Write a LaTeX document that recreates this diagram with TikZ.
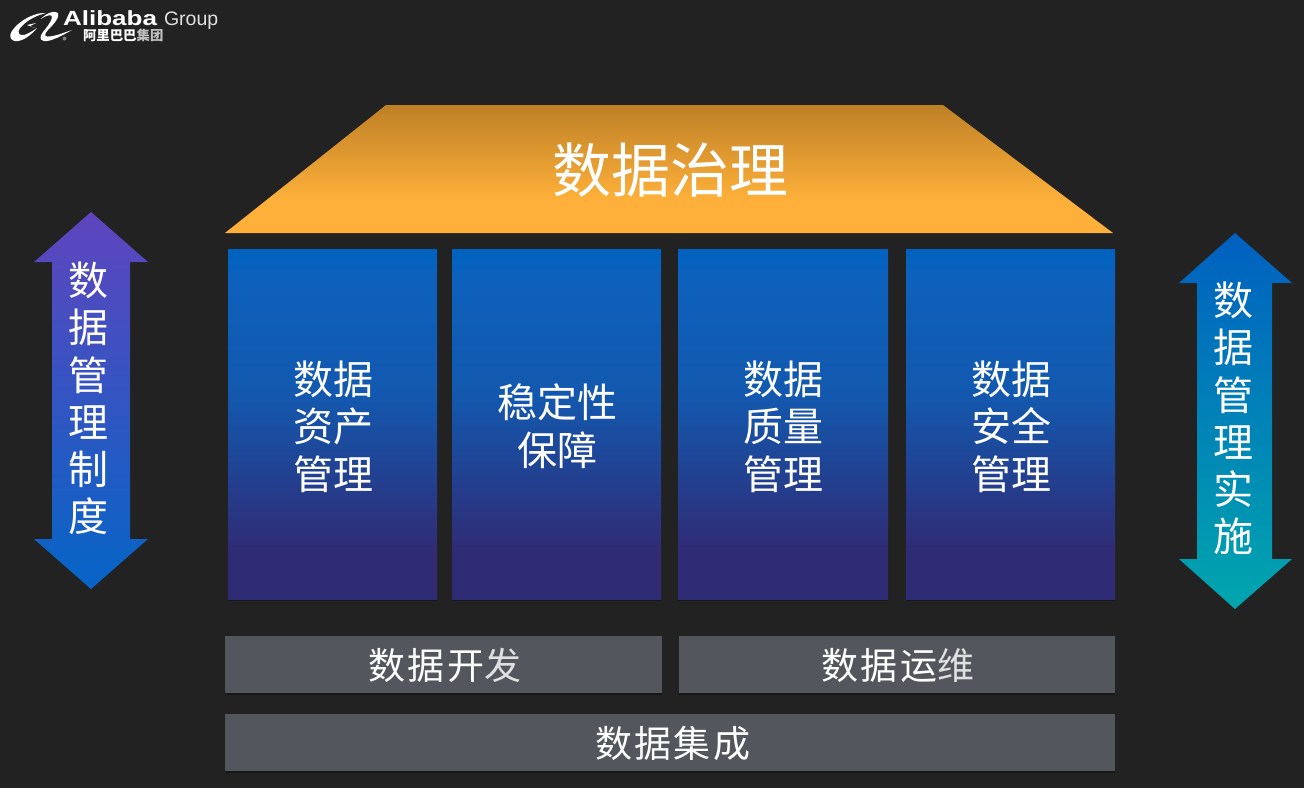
\documentclass[tikz,border=0pt]{standalone}
\usepackage{fontspec}
\setmainfont{Liberation Sans}
\newfontfamily\cjk{Noto Sans CJK SC}
\newfontfamily\cjkspaced[LetterSpace=5.5]{Noto Sans CJK SC}
\usetikzlibrary{shadows}
\definecolor{bgc}{HTML}{222222}
\definecolor{barc}{HTML}{53575D}
\definecolor{coltop}{HTML}{0062C0}
\definecolor{colhi}{HTML}{0D61BD}
\definecolor{colmid}{HTML}{1358AE}
\definecolor{colbot}{HTML}{302B75}
\definecolor{rooftop}{HTML}{BE8026}
\definecolor{roofbot}{HTML}{FEB03A}
\definecolor{latop}{HTML}{5F45BE}
\definecolor{labot}{HTML}{0565C6}
\definecolor{ratop}{HTML}{0060C0}
\definecolor{rabot}{HTML}{00A6AE}
\pgfdeclareverticalshading{roofshade}{100bp}{color(0bp)=(roofbot);color(25bp)=(roofbot);color(38bp)=(roofbot);color(75bp)=(rooftop);color(100bp)=(rooftop)}
\pgfdeclareverticalshading{colshade}{100bp}{color(0bp)=(colbot);color(25bp)=(colbot);color(32bp)=(colbot);color(54bp)=(colmid);color(71bp)=(colhi);color(75bp)=(coltop);color(100bp)=(coltop)}
\tikzset{
  every node/.style={inner sep=0pt,outer sep=0pt,text=white},
  softshadow/.style={general shadow={shadow yshift=-2pt,shadow xshift=0pt,fill=black,fill opacity=.3}},
  colbox/.style={rectangle,minimum width=209pt,minimum height=350pt,shading=colshade,softshadow},
  coltext/.style={align=center,font=\cjk\fontsize{40}{47.5}\selectfont},
  barbox/.style={rectangle,fill=barc,minimum height=57pt,softshadow},
  bartext/.style={font=\cjkspaced\fontsize{37}{40}\selectfont},
  arrowlabel/.style={align=center,font=\cjk\fontsize{40}{47.3}\selectfont},
}
\begin{document}
\begin{tikzpicture}[x=1pt,y=-1pt]
\useasboundingbox[fill=bgc] (0,0) rectangle (1304,788);

% roof
\shade[shading=roofshade] (386,105) -- (943,105) -- (1113,233) -- (225,233) -- cycle;
\node[font=\cjk\fontsize{59}{60}\selectfont] (roof) at (670.5,170) {数据治理};

% columns
\node[colbox] (c1) at (332.5,424) {};
\node[colbox] (c2) at (556.5,424) {};
\node[colbox,minimum width=210pt] (c3) at (783,424) {};
\node[colbox] (c4) at (1010.5,424) {};
\node[coltext] (t1) at (333,426.5) {数据\\资产\\管理};
\node[coltext] (t2) at (557,426) {稳定性\\保障};
\node[coltext] (t3) at (783,426.5) {数据\\质量\\管理};
\node[coltext] (t4) at (1011,426.5) {数据\\安全\\管理};

% bars
\node[barbox,minimum width=437pt] (b1) at (443.5,664.5) {};
\node[barbox,minimum width=436pt] (b2) at (897,664.5) {};
\node[barbox,minimum width=890pt] (b3) at (670,742.5) {};
\node[bartext] (bt1) at (445,665.5) {数据开\textcolor{white!88!black}{发}};
\node[bartext] (bt2) at (898,665.5) {数据运\textcolor{white!88!black}{维}};
\node[bartext] (bt3) at (673,744) {数据集成};

% side arrows
\shade[top color=latop,bottom color=labot]
  (91,212) -- (148,262) -- (130,262) -- (130,539) -- (148,539) -- (91,589) -- (34,539) -- (52,539) -- (52,262) -- (34,262) -- cycle;
\node[arrowlabel] (la) at (88,398.5) {数\\据\\管\\理\\制\\度};
\shade[top color=ratop,bottom color=rabot]
  (1235,233) -- (1292,283) -- (1272,283) -- (1272,559) -- (1292,559) -- (1235,609) -- (1179,559) -- (1197,559) -- (1197,283) -- (1179,283) -- cycle;
\node[arrowlabel] (ra) at (1233,418.5) {数\\据\\管\\理\\实\\施};

% logo
\fill[white] (46,13) .. controls (36,12) and (19,20) .. (12,31) .. controls (8,37) and (11,42) .. (18,41)
  .. controls (25,40) and (32,34) .. (37,28) .. controls (31,32) and (25,36) .. (21,35)
  .. controls (17,34) and (18,29) .. (23,25) .. controls (29,19) and (38,15) .. (46,13) -- cycle;
\fill[white] (27,25) -- (36,23) -- (30,26) -- (35,28) -- cycle;
\fill[white] (41,19) .. controls (46,13) and (55,10) .. (58,13) .. controls (60,17) and (54,24) .. (48,30)
  .. controls (45,33) and (44,36) .. (47,36.5) .. controls (53,37) and (63,33) .. (72,30)
  .. controls (63,35) and (51,42) .. (44,41) .. controls (39,40) and (40,36) .. (43,32)
  .. controls (47,27) and (52,21) .. (52,17) .. controls (52,14) and (46,15) .. (41,19) -- cycle;
\fill[gray] (64.5,38.5) circle (2pt);
\node[anchor=base west,font=\bfseries\fontsize{20.5}{21}\selectfont,xscale=1.27] (lg1) at (63,25.5) {Alibaba};
\node[anchor=base west,font=\fontsize{19.5}{20}\selectfont,text=white!88!black] (lg2) at (164,25.5) {Group};
\node[anchor=base west,font=\cjk\bfseries\fontsize{13.4}{14}\selectfont] (lg3) at (83,40) {阿里巴巴\textcolor{white!75!black}{集团}};
\end{tikzpicture}
\end{document}
